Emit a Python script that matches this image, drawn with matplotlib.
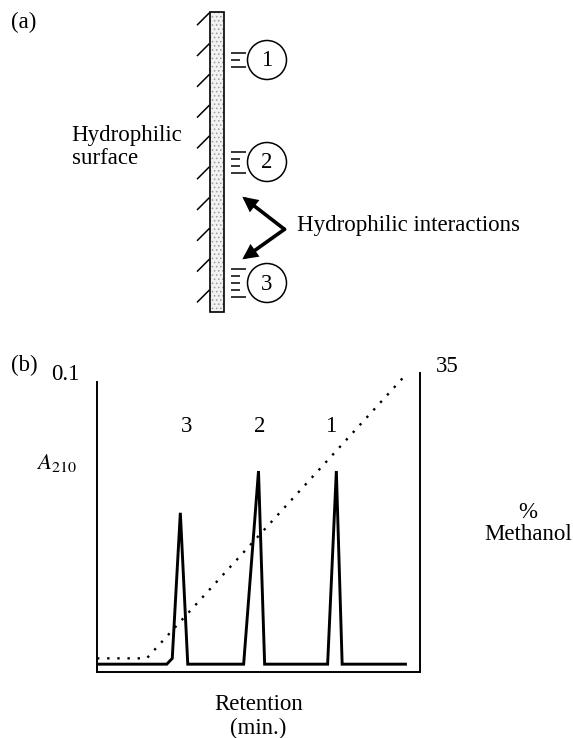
import matplotlib
matplotlib.use('Agg')
import matplotlib.pyplot as plt
from matplotlib.patches import Rectangle, Circle

plt.rcParams['font.family'] = ['Liberation Serif', 'DejaVu Serif']
plt.rcParams['mathtext.fontset'] = 'stix'
plt.rcParams['hatch.linewidth'] = 0.6

# panel (b): chromatogram (A210 vs retention) and methanol gradient
retention = [0, 21.6, 23.3, 25.8, 28.1, 45.4, 50.0, 51.9, 71.4, 74.1, 75.9, 95.5]
absorbance = [0.0027, 0.0027, 0.0047, 0.0549, 0.0027, 0.0027, 0.0693, 0.0027,
              0.0027, 0.0693, 0.0027, 0.0027]
gradient_time = [0, 15.4, 96.0]
methanol = [1.6, 1.6, 35]
peak_names = ['3', '2', '1']
peak_label_times = [27.6, 50.3, 72.4]

# panel (a): solutes bound to the surface
solute_names = ['1', '2', '3']
solute_y = [60, 162, 283]
solute_bonds = [3, 4, 5]

FS = 16.5

fig = plt.figure(figsize=(5.73, 7.38), dpi=100)

# overlay axes in pixel units for the schematic and free labels
ax = fig.add_axes([0, 0, 1, 1])
ax.set_xlim(0, 573)
ax.set_ylim(738, 0)
ax.axis('off')

# hydrophilic surface (stippled bar with hatch marks)
ax.add_patch(Rectangle((209.5, 11.7), 14, 300, facecolor='#f2f2f2',
                       edgecolor='#9a9a9a', hatch='....', lw=0))
ax.add_patch(Rectangle((209.5, 11.7), 14, 300, fill=False, edgecolor='k', lw=1.2))
for i in range(10):
    y0 = 12.7 + i * 30.8
    ax.plot([197, 209.5], [y0 + 12.5, y0], color='k', lw=1.1, solid_capstyle='butt')

for name, y, n in zip(solute_names, solute_y, solute_bonds):
    ax.add_patch(Circle((267, y), 19.5, fill=False, edgecolor='k', lw=1.1))
    ax.text(267, y + 1, name, fontsize=FS, ha='center', va='center')
    start = y - (n - 1) * 7 / 2
    for j in range(n):
        x1 = 246 if j in (0, n - 1) else 240
        ax.plot([231, x1], [start + j * 7] * 2, color='k', lw=1.1, solid_capstyle='butt')

ax.text(11, 22, '(a)', fontsize=FS, ha='left', va='center')
ax.text(71.6, 135, 'Hydrophilic', fontsize=FS, ha='left', va='center')
ax.text(71.6, 159, 'surface', fontsize=FS, ha='left', va='center')
ax.text(296.6, 225, 'Hydrophilic interactions', fontsize=FS, ha='left', va='center')

vertex = (284.5, 229.3)
for tip in [(242.3, 196.7), (242.3, 259.3)]:
    ax.annotate('', xy=tip, xytext=vertex,
                arrowprops=dict(arrowstyle='-|>,head_length=0.7,head_width=0.35',
                                lw=2.6, color='k', shrinkA=0, shrinkB=0,
                                joinstyle='miter'))

# panel (b) labels
ax.text(11, 365, '(b)', fontsize=FS, ha='left', va='center')
ax.text(65, 375, '0.1', fontsize=FS, ha='center', va='center')
ax.text(447.6, 367, '35', fontsize=FS, ha='center', va='center')
ax.text(56.6, 463, r'$A_{210}$', fontsize=FS, ha='center', va='center')
ax.text(528, 513, '%', fontsize=FS, ha='center', va='center')
ax.text(528, 535, 'Methanol', fontsize=FS, ha='center', va='center')
ax.text(258.5, 705, 'Retention', fontsize=FS, ha='center', va='center')
ax.text(258.5, 728, '(min.)', fontsize=FS, ha='center', va='center')

# chromatogram axes
W, H = 573, 738
axb = fig.add_axes([97 / W, (H - 672) / H, (420 - 97) / W, (672 - 373.3) / H])
axb.patch.set_alpha(0)
axb.plot(retention, absorbance, color='k', lw=2.1, solid_joinstyle='miter')
axb.set_xlim(0, 100)
axb.set_ylim(0, 0.103)
axb.set_xticks([])
axb.set_yticks([])
axb.spines['top'].set_visible(False)
axb.spines['left'].set_bounds(0, 0.1)
for s in ['left', 'right', 'bottom']:
    axb.spines[s].set_linewidth(1.4)
for name, t in zip(peak_names, peak_label_times):
    axb.text(t, 0.0846, name, fontsize=FS, ha='center', va='center')

axm = axb.twinx()
axm.plot(gradient_time, methanol, color='k', lw=1.7, dashes=(1.0, 3.3),
         dash_capstyle='butt')
axm.set_ylim(0, 35)
axm.set_yticks([])
for s in axm.spines.values():
    s.set_visible(False)

fig.savefig('out.png', dpi=100)
